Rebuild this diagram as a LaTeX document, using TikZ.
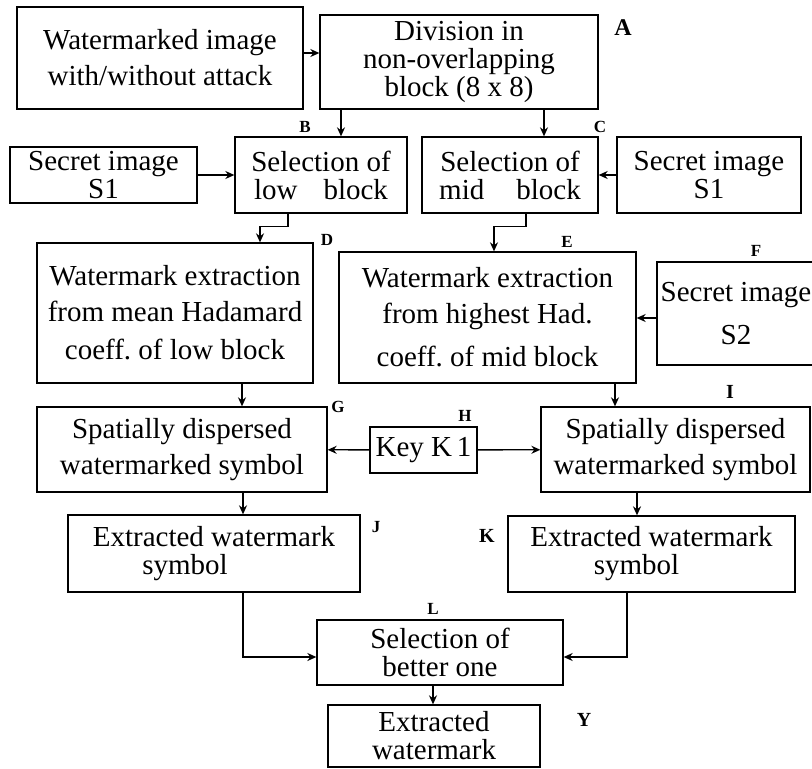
\documentclass[tikz,border=0pt]{standalone}
\usepackage{fontspec}
\setmainfont{Liberation Serif}
\usepackage{tikz}
\usetikzlibrary{arrows.meta}

\begin{document}
\begin{tikzpicture}[
            x=1pt, y=-1pt,                % 像素坐标
            >={Stealth[length=9pt, width=8pt]},
            box/.style={
                rectangle,
                draw,
                line width=1.3pt,
                align=center,
                inner sep=1pt,
                font=\fontsize{29}{28}\selectfont
            },
            loose/.style={font=\fontsize{29}{36}\selectfont},
            tag/.style={inner sep=0pt, font=\bfseries\fontsize{17}{17}\selectfont},
            bigtag/.style={font=\bfseries\fontsize{20}{20}\selectfont},
            arrow/.style={->, line width=1.3pt}
        ]
            \useasboundingbox (0,0) rectangle (812,769);

            % 方框
            \node[box, loose, minimum width=286pt, minimum height=102pt] (img) at (160,58) {Watermarked image\\with/without attack};
            \node[box, minimum width=278pt, minimum height=94pt] (div) at (459,62) {Division in\\non-overlapping\\block (8 x 8)};
            \node[box, minimum width=187pt, minimum height=56pt] (secL) at (103.5,175) {Secret image\\S1};
            \node[box, minimum width=172pt, minimum height=76pt] (low) at (321,175) {Selection of\\low\hspace{26pt}block};
            \node[box, minimum width=176pt, minimum height=76pt] (mid) at (510,175) {Selection of\\mid\hspace{32pt}block};
            \node[box, minimum width=184pt, minimum height=76pt] (secR) at (709,175) {Secret image\\S1};
            \node[box, loose, minimum width=276pt, minimum height=140pt] (extL) at (175,313) {Watermark extraction\\from mean Hadamard\\[2pt]coeff.\ of\ low block};
            \node[box, loose, minimum width=297pt, minimum height=131pt] (extR) at (487.5,317.5) {Watermark extraction\\from highest Had.\\[7pt]coeff.\ of mid block};
            \node[box, loose, minimum width=158pt, minimum height=103pt] (secS2) at (736,313.5) {Secret image\\[7pt]S2}; % 右边出界
            \node[box, loose, minimum width=290pt, minimum height=85pt] (dispL) at (182,449.5) {Spatially dispersed\\watermarked symbol};
            \node[box, minimum width=107pt, minimum height=46pt] (key) at (423.5,450) {Key K\,1};
            \node[box, loose, minimum width=269pt, minimum height=85pt] (dispR) at (675.5,449.5) {Spatially dispersed\\watermarked symbol};
            \node[box, minimum width=292pt, minimum height=77pt] (symL) at (214,553.5) {Extracted watermark\\symbol\hspace*{58pt}};
            \node[box, minimum width=287pt, minimum height=76pt] (symR) at (651.5,554) {Extracted watermark\\symbol\hspace*{30pt}};
            \node[box, minimum width=246pt, minimum height=65pt] (better) at (440,652.5) {Selection of\\better one};
            \node[box, minimum width=212pt, minimum height=62pt] (out) at (434,736) {Extracted\\watermark};

            % 字母标记
            \node[tag, font=\bfseries\fontsize{24}{24}\selectfont] (tA) at (623,28) {A};
            \node[tag] (tB) at (305,127) {B};
            \node[tag] (tC) at (600,127) {C};
            \node[tag] (tD) at (327,240) {D};
            \node[tag] (tE) at (567,242) {E};
            \node[tag] (tF) at (756,251) {F};
            \node[tag] (tG) at (338,407) {G};
            \node[tag] (tH) at (465,416) {H};
            \node[tag, bigtag] (tI) at (730,392) {I};
            \node[tag] (tJ) at (376,527) {J};
            \node[tag, bigtag] (tK) at (487,536) {K};
            \node[tag] (tL) at (433,609) {L};
            \node[tag, bigtag] (tY) at (584,720) {Y};

            % 连线
            \draw[arrow] (img.east |- 0,53) -- (div.west |- 0,53);
            \draw[arrow] (div.south -| 341,0) -- (low.north -| 341,0);
            \draw[arrow] (div.south -| 544,0) -- (mid.north -| 544,0);
            \draw[arrow] (secL) -- (low);
            \draw[arrow] (secR) -- (mid);
            \draw[arrow] (low.south -| 288,0) -- ++(0,13) -| (extL.north -| 260,0);
            \draw[arrow] (mid.south -| 526,0) -- ++(0,13) -| (extR.north -| 494,0);
            \draw[arrow] (secS2.west |- 0,318) -- (extR.east |- 0,318);
            \draw[arrow] (extL.south -| 242,0) -- (dispL.north -| 242,0);
            \draw[arrow] (extR.south -| 615,0) -- (dispR.north -| 615,0);
            \draw[arrow] (key) -- (dispL);
            \draw[arrow] (key) -- (dispR);
            \draw[arrow] (dispL.south -| 243,0) -- (symL.north -| 243,0);
            \draw[arrow] (dispR.south -| 637,0) -- (symR.north -| 637,0);
            \draw[arrow] (symL.south -| 243,0) |- (better.west |- 0,657);
            \draw[arrow] (symR.south -| 627,0) |- (better.east |- 0,657);
            \draw[arrow] (better.south -| 433,0) -- (out.north -| 433,0);
        \end{tikzpicture}
\end{document}
